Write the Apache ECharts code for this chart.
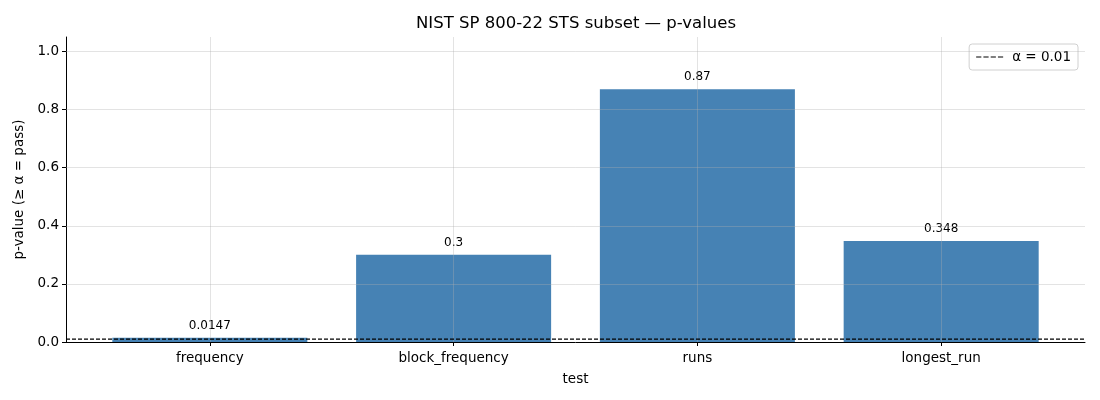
<!DOCTYPE html>
<html><head><meta charset="utf-8">
<script src="https://cdn.jsdelivr.net/npm/echarts@6/dist/echarts.min.js"></script>
<style>html,body{margin:0;padding:0;background:#fff}#c{width:1100px;height:400px}</style>
</head><body><div id="c"></div>
<script>
var categories = ['frequency', 'block_frequency', 'runs', 'longest_run'];
var pValues = [0.0147, 0.3, 0.87, 0.348];
var barLabels = ['0.0147', '0.3', '0.87', '0.348'];
var alpha = 0.01;
var yTicks = [0, 0.2, 0.4, 0.6, 0.8, 1.0];
var xMin = -0.59, xMax = 3.59, yMin = 0, yMax = 1.05;

var chart = echarts.init(document.getElementById('c'));
var gridLeft = 66, gridRight = 15;
var plotW = 1100 - gridLeft - gridRight;
var barW = 0.8 * plotW / (xMax - xMin);
var font = 'DejaVu Sans';
var catIdx = categories.map(function (c, i) { return i; });
var gridColor = 'rgba(176,176,176,0.35)';

chart.setOption({
  animation: false,
  textStyle: { fontFamily: font },
  title: {
    text: 'NIST SP 800-22 STS subset — p-values',
    left: 411, top: 10,
    textStyle: { fontFamily: font, fontSize: 16.5, fontWeight: 'normal', color: '#000' }
  },
  legend: {
    right: 22, top: 44,
    data: [{ name: 'α = ' + alpha, itemStyle: { color: '#000', opacity: 1 } }],
    icon: 'path://M0,0h5v1h-5z M7,0h5v1h-5z M14,0h5v1h-5z M21,0h5v1h-5z',
    itemWidth: 27, itemHeight: 1.6, itemGap: 8,
    padding: [6, 7, 6, 7],
    borderColor: '#d0d0d0', borderWidth: 1, borderRadius: 3,
    backgroundColor: 'rgba(255,255,255,0.8)',
    textStyle: { fontFamily: font, fontSize: 13.5, color: '#000', padding: [0, 0, 0, 4] }
  },
  grid: { left: gridLeft, right: gridRight, top: 37, bottom: 58 },
  xAxis: {
    type: 'value', min: xMin, max: xMax,
    name: 'test', nameLocation: 'middle', nameGap: 30,
    nameTextStyle: { fontFamily: font, fontSize: 13.5, color: '#000' },
    axisLine: { show: true, onZero: false, lineStyle: { color: '#000', width: 1 } },
    axisTick: { show: true, inside: false, length: 4, customValues: catIdx, lineStyle: { color: '#000' } },
    axisLabel: {
      customValues: catIdx, margin: 9,
      formatter: function (v) { return categories[Math.round(v)]; },
      fontFamily: font, fontSize: 13.5, color: '#000'
    },
    splitLine: { show: false }
  },
  yAxis: {
    type: 'value', min: yMin, max: yMax,
    name: 'p-value (≥ α = pass)', nameLocation: 'middle', nameGap: 33,
    nameTextStyle: { fontFamily: font, fontSize: 13.5, color: '#000' },
    axisLine: { show: true, onZero: false, lineStyle: { color: '#000', width: 1 } },
    axisTick: { show: true, inside: false, length: 4, customValues: yTicks, lineStyle: { color: '#000' } },
    axisLabel: {
      customValues: yTicks, margin: 7,
      formatter: function (v) { return v.toFixed(1); },
      fontFamily: font, fontSize: 13.5, color: '#000'
    },
    splitLine: { show: false }
  },
  series: [
    {
      type: 'bar',
      name: 'p',
      barWidth: barW,
      itemStyle: { color: '#4682b4' },
      data: pValues.map(function (v, i) { return [i, v]; }),
      label: {
        show: true, position: 'top', distance: 6,
        formatter: function (p) { return barLabels[p.dataIndex]; },
        fontFamily: font, fontSize: 12, color: '#000'
      },
      z: 2,
      markLine: {
        silent: true, symbol: 'none', animation: false,
        label: { show: false },
        lineStyle: { color: gridColor, type: 'solid', width: 1 },
        data: catIdx.map(function (i) { return { xAxis: i }; })
          .concat(yTicks.slice(1).map(function (v) { return { yAxis: v }; }))
      }
    },
    {
      type: 'line',
      name: 'α = ' + alpha,
      data: [[xMin, alpha], [xMax, alpha]],
      symbol: 'none',
      lineStyle: { color: '#000', width: 1.1, type: [4, 2] },
      itemStyle: { color: '#000' },
      z: 5
    }
  ]
});
</script></body></html>
